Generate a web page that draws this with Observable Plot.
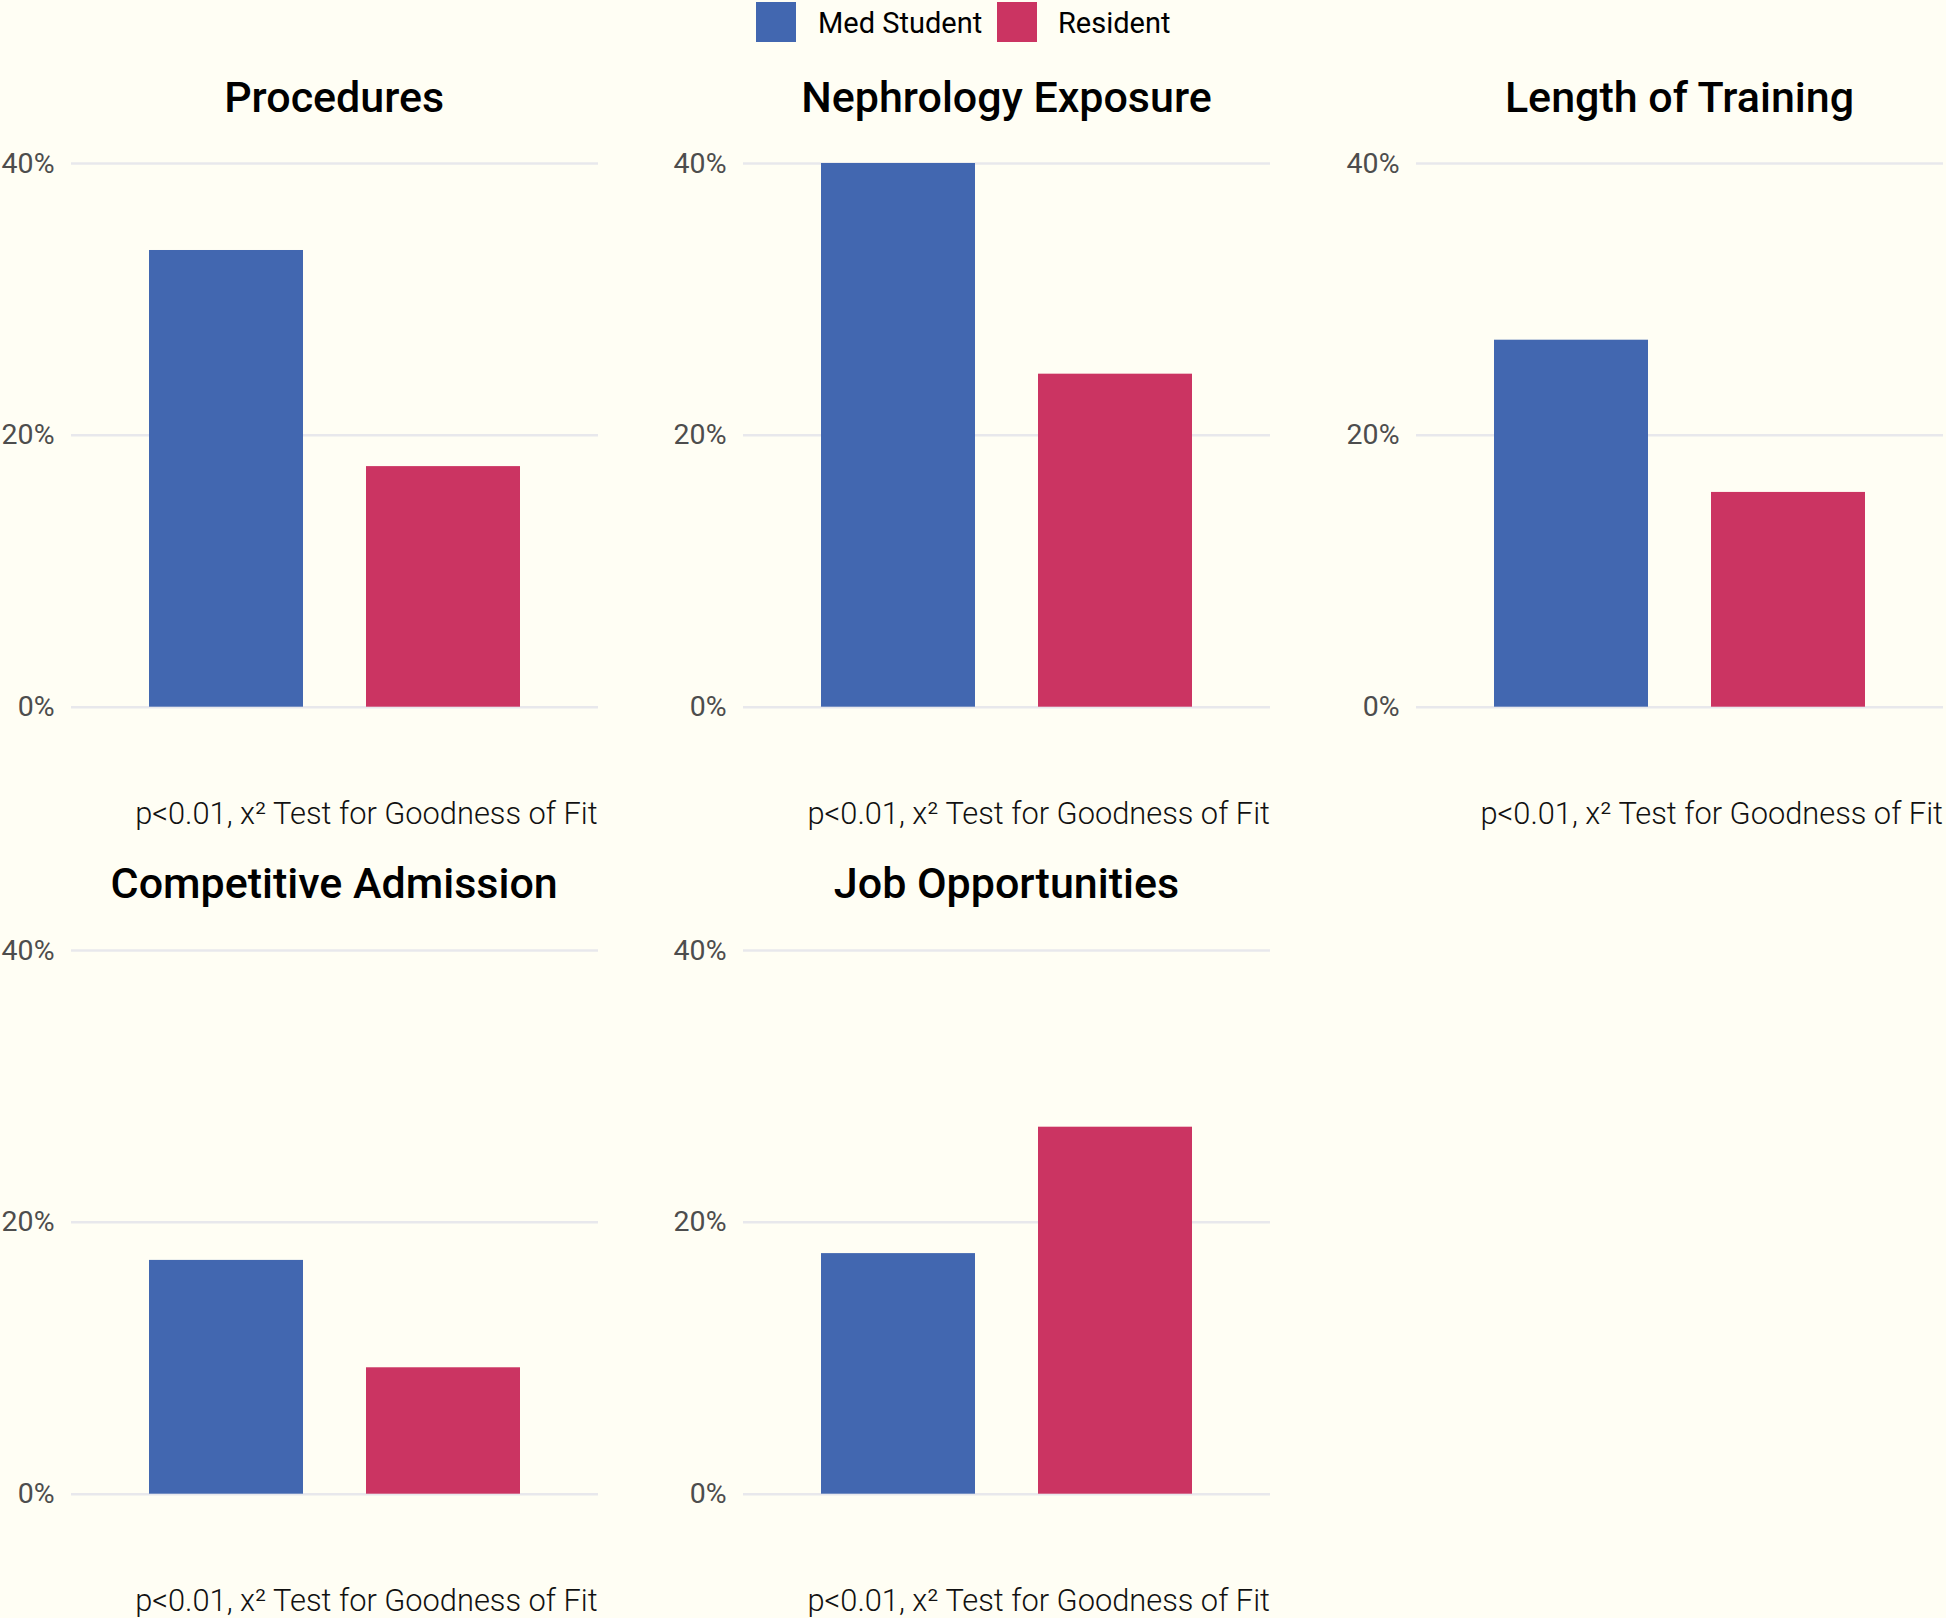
<!DOCTYPE html>
<html><head><meta charset="utf-8">
<script src="https://cdn.jsdelivr.net/npm/d3@7"></script>
<script src="https://cdn.jsdelivr.net/npm/@observablehq/plot@0.6"></script>
<style>
html,body{margin:0;padding:0;background:#FFFEF4;}
#root{position:relative;width:1946px;height:1618px;background:#FFFEF4;overflow:hidden;font-family:Roboto,sans-serif;}
.abs{position:absolute;}
.title{font-weight:500;font-size:43px;color:#000;transform:translate(-50%,-50%);white-space:nowrap;line-height:1;}
.caption{font-weight:300;font-size:30.8px;color:#111;transform:translate(-100%,-50%);white-space:nowrap;line-height:1;}
.legtext{font-size:29px;color:#000;transform:translateY(-50%);white-space:nowrap;line-height:1;}
.sw{width:40px;height:40px;}
</style></head><body><div id="root"></div>
<script>
const panels = ["Procedures", "Nephrology Exposure", "Length of Training", "Competitive Admission", "Job Opportunities"];
const groups = ["Med Student", "Resident"];
const medStudent = [33.6, 40.0, 27.0, 17.2, 17.7];
const resident = [17.7, 24.5, 15.8, 9.3, 27.0];
const yTicks = [0, 20, 40];
const colors = ["#4267B0", "#CB3462"];
const captionText = "p<0.01, x\u00B2 Test for Goodness of Fit";

const root = document.getElementById("root");
function addDiv(cls, x, y, text) {
  const d = document.createElement("div");
  d.className = "abs " + cls;
  d.style.left = x + "px";
  d.style.top = y + "px";
  if (text != null) d.textContent = text;
  root.appendChild(d);
  return d;
}

// Legend
const legX = [756, 997], legTextX = [818, 1058];
groups.forEach((g, i) => {
  const s = addDiv("sw", legX[i], 2);
  s.style.background = colors[i];
  addDiv("legtext", legTextX[i], 23, g);
});

const colX = [70.7, 743, 1416];
const rowY = [162.8, 949.6];
const titleY = [97, 883];
const captionY = [814, 1601];
const panelW = 527, panelH = 543.7;
const mL = 70, mR = 3, mT = 10, mB = 10;

panels.forEach((name, i) => {
  const col = i % 3, row = Math.floor(i / 3);
  const data = groups.map((g, k) => ({group: g, value: k === 0 ? medStudent[i] : resident[i]}));
  const chart = Plot.plot({
    width: mL + panelW + mR,
    height: mT + panelH + mB,
    marginLeft: mL, marginRight: mR, marginTop: mT, marginBottom: mB,
    style: {background: "transparent", fontFamily: "Roboto, sans-serif", fontSize: "28.5px", color: "#4d4d4d", overflow: "visible"},
    x: {domain: groups, paddingInner: 0.291, paddingOuter: 0.357, axis: null},
    y: {domain: [0, 40], axis: null},
    color: {domain: groups, range: colors},
    marks: [
      Plot.gridY(yTicks, {stroke: "#E8E8EC", strokeOpacity: 1, strokeWidth: 2.5}),
      Plot.axisY(yTicks, {tickFormat: d => d + "%", tickSize: 0, tickPadding: 17, fontSize: 28.5, label: null}),
      Plot.barY(data, {x: "group", y: "value", fill: "group"})
    ]
  });
  const wrap = addDiv("", colX[col] - mL, rowY[row] - mT);
  wrap.appendChild(chart);
  addDiv("title", colX[col] + panelW / 2, titleY[row], name);
  addDiv("caption", colX[col] + panelW, captionY[row], captionText);
});
</script></body></html>
